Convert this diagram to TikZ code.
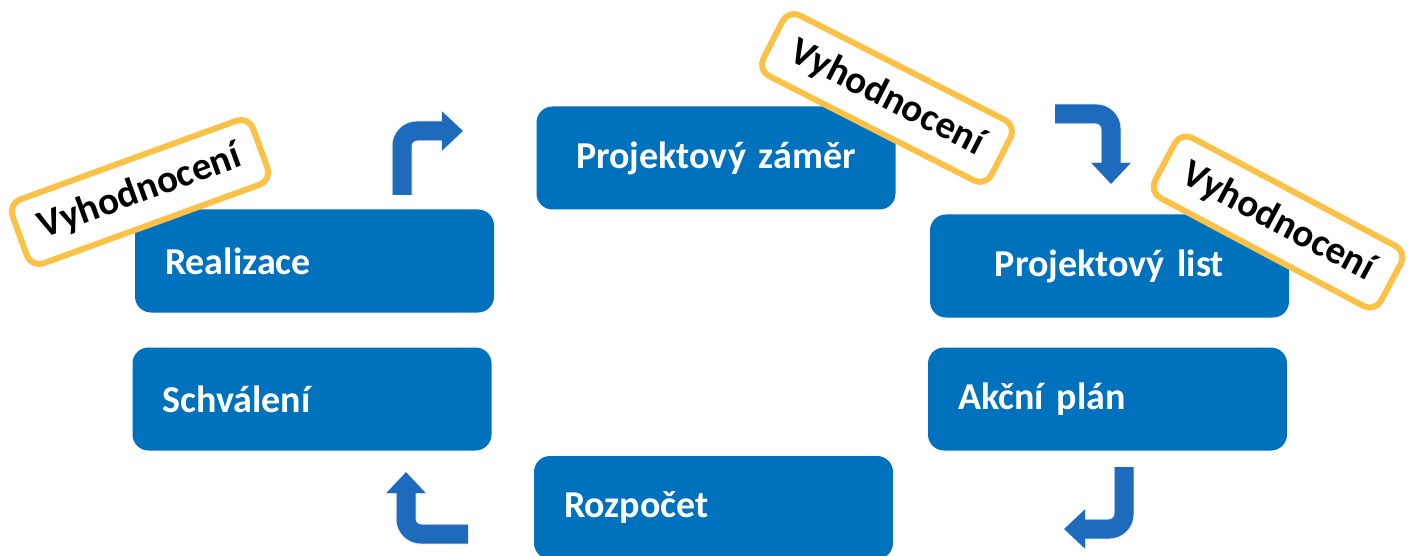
\documentclass[tikz,border=0pt]{standalone}
\usepackage{fontspec}
\setmainfont[WordSpace=0.6]{Carlito}
\usetikzlibrary{arrows.meta}
\definecolor{boxblue}{RGB}{0,113,188}
\definecolor{arrowblue}{RGB}{30,106,188}
\definecolor{tagyellow}{RGB}{252,194,72}
\tikzset{
  stagebox/.style={fill=boxblue, rounded corners=16pt, minimum width=359pt,
    minimum height=103pt, inner xsep=30pt, text width=299pt, text=white,
    font=\fontsize{38}{42}\selectfont\bfseries},
  stageleft/.style={stagebox, align=left},
  stagecenter/.style={stagebox, align=center},
  evaltag/.style={draw=tagyellow, line width=6pt, fill=white, rounded corners=13pt,
    minimum width=256pt, minimum height=68pt, inner sep=0pt,
    font=\fontsize{39}{42}\selectfont\bfseries},
  bentarrow/.style={draw=arrowblue, line width=19pt, rounded corners=15pt,
    -{Triangle[width=38pt,length=21pt]}},
  bentshadow/.style={draw=black!60, opacity=0.12, line width=21pt, rounded corners=15pt,
    -{Triangle[width=40pt,length=22pt]}}
}
\begin{document}
\begin{tikzpicture}[x=1pt,y=-1pt]
\useasboundingbox (0,0) rectangle (1413,556);

% process stages
\node[stagecenter] (zamer)   at (716,158) {Projektový záměr};
\node[stageleft]   (realiz)  at (314.5,261) {Realizace};
\node[stagecenter] (list)    at (1109.5,266) {Projektový list};
\node[stageleft]   (schval)  at (312,399) {Schválení};
\node[stageleft]   (akce)    at (1107.5,399) {Akční plán};
\node[stageleft]   (rozpocet) at (713.5,507.5) {Rozpočet};

% ends of the bent arrows
\coordinate (a1s) at (402,195);  \coordinate (a1b) at (402,131);  \coordinate (a1e) at (463,131);
\coordinate (a2s) at (1055,114); \coordinate (a2b) at (1111,114); \coordinate (a2e) at (1111,184);
\coordinate (a3s) at (1124,467); \coordinate (a3b) at (1124,529); \coordinate (a3e) at (1064,529);
\coordinate (a4s) at (468,534);  \coordinate (a4b) at (406,534);  \coordinate (a4e) at (406,472);

% soft shadows under the arrows
\begin{scope}[shift={(2,3)}]
\draw[bentshadow] (a1s) -- (a1b) -- (a1e);
\draw[bentshadow] (a2s) -- (a2b) -- (a2e);
\draw[bentshadow] (a3s) -- (a3b) -- (a3e);
\draw[bentshadow] (a4s) -- (a4b) -- (a4e);
\end{scope}

% bent arrows
\draw[bentarrow] (a1s) -- (a1b) -- (a1e);
\draw[bentarrow] (a2s) -- (a2b) -- (a2e);
\draw[bentarrow] (a3s) -- (a3b) -- (a3e);
\draw[bentarrow] (a4s) -- (a4b) -- (a4e);

% evaluation tags
\node[evaltag, rotate=20]  (tagl) at (140,192) {Vyhodnocení};
\node[evaltag, rotate=-27] (tagm) at (887,98)  {Vyhodnocení};
\node[evaltag, rotate=-28] (tagr) at (1278,222) {Vyhodnocení};
\end{tikzpicture}
\end{document}
